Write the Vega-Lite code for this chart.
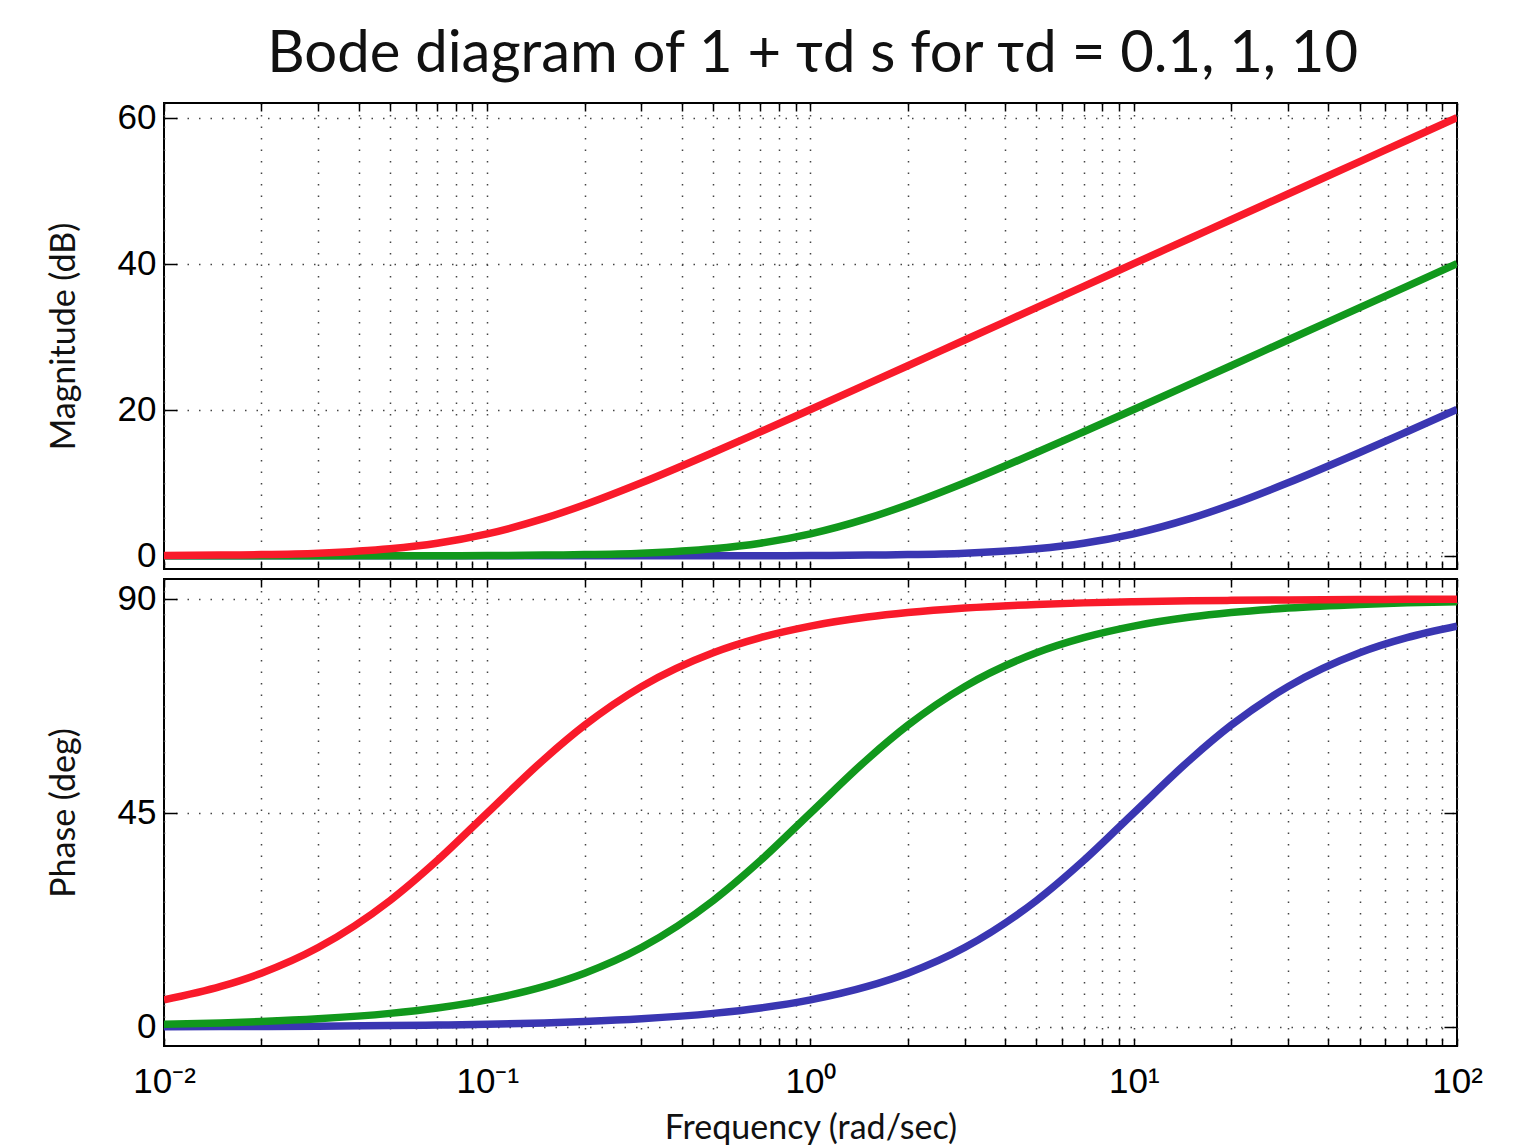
{
  "$schema": "https://vega.github.io/schema/vega-lite/v6.json",
  "padding": {"left": 46, "top": 25, "right": 40, "bottom": 4},
  "background": "white",
  "title": {"text": "Bode diagram of 1 + τd s for τd = 0.1, 1, 10", "fontSize": 58, "font": "Lato", "fontWeight": "normal", "color": "#111", "offset": 16, "anchor": "middle", "dx": 48},
  "datasets": {
    "bode": [
      {"tau":"0.1","w":0.01,"mag":0,"phase":0.06},{"tau":"0.1","w":0.015,"mag":0,"phase":0.09},{"tau":"0.1","w":0.02,"mag":0,"phase":0.11},{"tau":"0.1","w":0.03,"mag":0,"phase":0.17},{"tau":"0.1","w":0.05,"mag":0,"phase":0.29},{"tau":"0.1","w":0.07,"mag":0,"phase":0.4},{"tau":"0.1","w":0.1,"mag":0,"phase":0.57},{"tau":"0.1","w":0.15,"mag":0,"phase":0.86},{"tau":"0.1","w":0.2,"mag":0,"phase":1.15},{"tau":"0.1","w":0.3,"mag":0,"phase":1.72},{"tau":"0.1","w":0.5,"mag":0.01,"phase":2.86},{"tau":"0.1","w":0.7,"mag":0.02,"phase":4.0},{"tau":"0.1","w":1,"mag":0.04,"phase":5.71},{"tau":"0.1","w":1.5,"mag":0.1,"phase":8.53},{"tau":"0.1","w":2,"mag":0.17,"phase":11.31},{"tau":"0.1","w":3,"mag":0.37,"phase":16.7},{"tau":"0.1","w":5,"mag":0.97,"phase":26.57},{"tau":"0.1","w":7,"mag":1.73,"phase":34.99},{"tau":"0.1","w":10,"mag":3.01,"phase":45},{"tau":"0.1","w":15,"mag":5.12,"phase":56.31},{"tau":"0.1","w":20,"mag":6.99,"phase":63.43},{"tau":"0.1","w":30,"mag":10,"phase":71.57},{"tau":"0.1","w":50,"mag":14.15,"phase":78.69},{"tau":"0.1","w":70,"mag":16.99,"phase":81.87},{"tau":"0.1","w":100,"mag":20.04,"phase":84.29},
      {"tau":"1","w":0.01,"mag":0,"phase":0.57},{"tau":"1","w":0.015,"mag":0,"phase":0.86},{"tau":"1","w":0.02,"mag":0,"phase":1.15},{"tau":"1","w":0.03,"mag":0,"phase":1.72},{"tau":"1","w":0.05,"mag":0.01,"phase":2.86},{"tau":"1","w":0.07,"mag":0.02,"phase":4.0},{"tau":"1","w":0.1,"mag":0.04,"phase":5.71},{"tau":"1","w":0.15,"mag":0.1,"phase":8.53},{"tau":"1","w":0.2,"mag":0.17,"phase":11.31},{"tau":"1","w":0.3,"mag":0.37,"phase":16.7},{"tau":"1","w":0.5,"mag":0.97,"phase":26.57},{"tau":"1","w":0.7,"mag":1.73,"phase":34.99},{"tau":"1","w":1,"mag":3.01,"phase":45},{"tau":"1","w":1.5,"mag":5.12,"phase":56.31},{"tau":"1","w":2,"mag":6.99,"phase":63.43},{"tau":"1","w":3,"mag":10,"phase":71.57},{"tau":"1","w":5,"mag":14.15,"phase":78.69},{"tau":"1","w":7,"mag":16.99,"phase":81.87},{"tau":"1","w":10,"mag":20.04,"phase":84.29},{"tau":"1","w":15,"mag":23.54,"phase":86.19},{"tau":"1","w":20,"mag":26.03,"phase":87.14},{"tau":"1","w":30,"mag":29.55,"phase":88.09},{"tau":"1","w":50,"mag":33.98,"phase":88.85},{"tau":"1","w":70,"mag":36.9,"phase":89.18},{"tau":"1","w":100,"mag":40,"phase":89.43},
      {"tau":"10","w":0.01,"mag":0.04,"phase":5.71},{"tau":"10","w":0.015,"mag":0.1,"phase":8.53},{"tau":"10","w":0.02,"mag":0.17,"phase":11.31},{"tau":"10","w":0.03,"mag":0.37,"phase":16.7},{"tau":"10","w":0.05,"mag":0.97,"phase":26.57},{"tau":"10","w":0.07,"mag":1.73,"phase":34.99},{"tau":"10","w":0.1,"mag":3.01,"phase":45},{"tau":"10","w":0.15,"mag":5.12,"phase":56.31},{"tau":"10","w":0.2,"mag":6.99,"phase":63.43},{"tau":"10","w":0.3,"mag":10,"phase":71.57},{"tau":"10","w":0.5,"mag":14.15,"phase":78.69},{"tau":"10","w":0.7,"mag":16.99,"phase":81.87},{"tau":"10","w":1,"mag":20.04,"phase":84.29},{"tau":"10","w":1.5,"mag":23.54,"phase":86.19},{"tau":"10","w":2,"mag":26.03,"phase":87.14},{"tau":"10","w":3,"mag":29.55,"phase":88.09},{"tau":"10","w":5,"mag":33.98,"phase":88.85},{"tau":"10","w":7,"mag":36.9,"phase":89.18},{"tau":"10","w":10,"mag":40,"phase":89.43},{"tau":"10","w":15,"mag":43.52,"phase":89.62},{"tau":"10","w":20,"mag":46.02,"phase":89.71},{"tau":"10","w":30,"mag":49.54,"phase":89.81},{"tau":"10","w":50,"mag":53.98,"phase":89.89},{"tau":"10","w":70,"mag":56.9,"phase":89.92},{"tau":"10","w":100,"mag":60,"phase":89.94}
    ]
  },
  "data": {"name": "bode"},
  "spacing": 2,
  "vconcat": [
    {
      "width": 1293,
      "height": 466,
      "layer": [
        {
          "mark": {"type": "line", "strokeWidth": 7.5, "interpolate": "monotone", "clip": true},
          "encoding": {
            "x": {"field": "w", "type": "quantitative", "scale": {"type": "log", "domain": [0.01, 100], "nice": false},
              "axis": {"orient": "bottom", "values": [0.01,0.02,0.03,0.04,0.05,0.06,0.07,0.08,0.09,0.1,0.2,0.3,0.4,0.5,0.6,0.7,0.8,0.9,1,2,3,4,5,6,7,8,9,10,20,30,40,50,60,70,80,90,100], "labels": false, "title": null, "tickSize": -8}},
            "y": {"field": "mag", "type": "quantitative", "scale": {"domain": [-1.8, 62], "nice": false, "zero": false},
              "axis": {"orient": "left", "values": [0, 20, 40, 60], "title": "Magnitude (dB)", "titlePadding": 36}},
            "color": {"field": "tau", "type": "nominal", "sort": ["0.1", "1", "10"], "scale": {"domain": ["0.1", "1", "10"], "range": ["#3a36b2", "#11981c", "#f91a2a"]}, "legend": null}
          }
        },
        {
          "mark": {"type": "line", "strokeOpacity": 0, "clip": true},
          "encoding": {
            "x": {"field": "w", "type": "quantitative", "scale": {"type": "log", "domain": [0.01, 100], "nice": false},
              "axis": {"orient": "top", "values": [0.01,0.02,0.03,0.04,0.05,0.06,0.07,0.08,0.09,0.1,0.2,0.3,0.4,0.5,0.6,0.7,0.8,0.9,1,2,3,4,5,6,7,8,9,10,20,30,40,50,60,70,80,90,100], "labels": false, "title": null, "grid": false, "tickSize": -8}},
            "y": {"field": "mag", "type": "quantitative", "scale": {"domain": [-1.8, 62], "nice": false, "zero": false},
              "axis": {"orient": "right", "values": [0, 20, 40, 60], "labels": false, "title": null, "grid": false}}
          }
        }
      ],
      "resolve": {"axis": {"x": "independent", "y": "independent"}}
    },
    {
      "width": 1293,
      "height": 467,
      "layer": [
        {
          "mark": {"type": "line", "strokeWidth": 7.5, "interpolate": "monotone", "clip": true},
          "encoding": {
            "x": {"field": "w", "type": "quantitative", "scale": {"type": "log", "domain": [0.01, 100], "nice": false},
              "axis": {"orient": "bottom", "values": [0.01,0.02,0.03,0.04,0.05,0.06,0.07,0.08,0.09,0.1,0.2,0.3,0.4,0.5,0.6,0.7,0.8,0.9,1,2,3,4,5,6,7,8,9,10,20,30,40,50,60,70,80,90,100],
                "labelExpr": "datum.value == 0.01 ? '10⁻²' : datum.value == 0.1 ? '10⁻¹' : datum.value == 1 ? '10⁰' : datum.value == 10 ? '10¹' : datum.value == 100 ? '10²' : ''",
                "title": "Frequency (rad/sec)", "titlePadding": 12, "labelFlush": false, "labelOverlap": false, "tickSize": -8, "labelPadding": 26}},
            "y": {"field": "phase", "type": "quantitative", "scale": {"domain": [-4, 94.2], "nice": false, "zero": false},
              "axis": {"orient": "left", "values": [0, 45, 90], "title": "Phase (deg)", "titlePadding": 36}},
            "color": {"field": "tau", "type": "nominal", "sort": ["0.1", "1", "10"], "scale": {"domain": ["0.1", "1", "10"], "range": ["#3a36b2", "#11981c", "#f91a2a"]}, "legend": null}
          }
        },
        {
          "mark": {"type": "line", "strokeOpacity": 0, "clip": true},
          "encoding": {
            "x": {"field": "w", "type": "quantitative", "scale": {"type": "log", "domain": [0.01, 100], "nice": false},
              "axis": {"orient": "top", "values": [0.01,0.02,0.03,0.04,0.05,0.06,0.07,0.08,0.09,0.1,0.2,0.3,0.4,0.5,0.6,0.7,0.8,0.9,1,2,3,4,5,6,7,8,9,10,20,30,40,50,60,70,80,90,100], "labels": false, "title": null, "grid": false, "tickSize": -8}},
            "y": {"field": "phase", "type": "quantitative", "scale": {"domain": [-4, 94.2], "nice": false, "zero": false},
              "axis": {"orient": "right", "values": [0, 45, 90], "labels": false, "title": null, "grid": false}}
          }
        }
      ],
      "resolve": {"axis": {"x": "independent", "y": "independent"}}
    }
  ],
  "config": {
    "view": {"stroke": "black", "strokeWidth": 2},
    "axis": {
      "domain": false,
      "grid": true,
      "gridColor": "#444",
      "gridDash": [1.5, 10],
      "gridWidth": 1.5,
      "gridOpacity": 1,
      "tickColor": "black",
      "tickSize": -13,
      "tickWidth": 1.5,
      "labelFont": "Liberation Sans",
      "labelFontSize": 35,
      "labelColor": "black",
      "labelPadding": 21,
      "titleFont": "Lato",
      "titleFontSize": 34,
      "titleFontWeight": "normal",
      "titleColor": "#111"
    }
  }
}
